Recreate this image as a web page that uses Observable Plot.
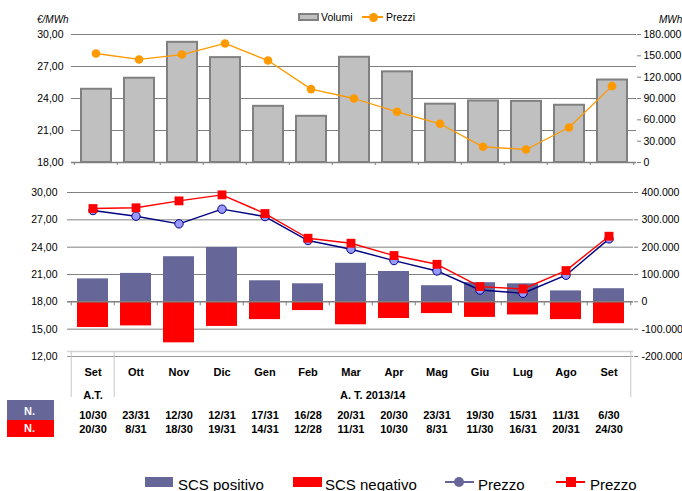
<!DOCTYPE html>
<html>
<head>
<meta charset="utf-8">
<script src="https://cdn.jsdelivr.net/npm/d3@7"></script>
<script src="https://cdn.jsdelivr.net/npm/@observablehq/plot@0.6"></script>
<style>
  body { margin: 0; background: #fff; font-family: "Liberation Sans", Arial, sans-serif; }
  #chart { position: relative; width: 682px; height: 491px; overflow: hidden; background: #fff; }
  #chart svg { position: absolute; left: 0; overflow: visible; }
  .t { position: absolute; white-space: nowrap; line-height: 1; color: #000; }
  .sw { position: absolute; box-sizing: border-box; }
</style>
</head>
<body>
<div id="chart"></div>
<script>
// Months of the thermal year (first "Set" belongs to the previous A.T.)
const monthKeys = ["Set12", "Ott", "Nov", "Dic", "Gen", "Feb", "Mar", "Apr", "Mag", "Giu", "Lug", "Ago", "Set13"];
const monthLabels = ["Set", "Ott", "Nov", "Dic", "Gen", "Feb", "Mar", "Apr", "Mag", "Giu", "Lug", "Ago", "Set"];

// Upper panel: traded volumes (MWh) and prices (€/MWh)
const volumi = [103000, 118500, 169000, 147500, 79000, 65000, 148000, 127500, 82000, 86500, 86000, 80500, 116000];
const prezzi = [28.22, 27.66, 28.12, 29.16, 27.56, 24.88, 24.00, 22.75, 21.63, 19.47, 19.22, 21.28, 25.16];

// Lower panel: imbalance volumes (MWh) and prices (€/MWh)
const scsPositivo = [84000, 104000, 165000, 199000, 77000, 66000, 141000, 111000, 59000, 70000, 66000, 40000, 48000];
const scsNegativo = [-94000, -88000, -150000, -90000, -65000, -32000, -84000, -61000, -43000, -57000, -48000, -65000, -80000];
const prezzoPositivo = [28.02, 27.40, 26.56, 28.17, 27.36, 24.73, 23.77, 22.53, 21.39, 19.30, 18.94, 20.92, 24.91];
const prezzoNegativo = [28.24, 28.32, 29.08, 29.74, 27.69, 24.98, 24.43, 23.08, 22.12, 19.67, 19.41, 21.43, 25.20];

// Days with positive / negative imbalance
const giorniPositivo = ["10/30", "23/31", "12/30", "12/31", "17/31", "16/28", "20/31", "20/30", "23/31", "19/30", "15/31", "11/31", "6/30"];
const giorniNegativo = ["20/30", "8/31", "18/30", "19/31", "14/31", "12/28", "11/31", "10/30", "8/31", "11/30", "16/31", "20/31", "24/30"];

// Axis ticks
const ticksPrezzoTop = [18, 21, 24, 27, 30];
const ticksVolumeTop = [0, 30000, 60000, 90000, 120000, 150000, 180000];
const ticksPrezzoBottom = [12, 15, 18, 21, 24, 27, 30];
const ticksVolumeBottom = [-200000, -100000, 0, 100000, 200000, 300000, 400000];

const it = d3.formatLocale({decimal: ",", thousands: ".", grouping: [3], currency: ["", " €"], minus: "-"});
const fmtPrezzo = it.format(".2f");
const fmtVolume = it.format(",d");

const chart = document.getElementById("chart");
const baseStyle = {
  fontFamily: '"Liberation Sans", Arial, sans-serif',
  fontSize: "10.5px",
  background: "transparent",
  color: "#000",
  overflow: "visible"
};
const GRID = "#808080";

function place(svg, top) {
  svg.style.position = "absolute";
  svg.style.top = top + "px";
  svg.style.left = "0px";
  chart.append(svg);
}

// ---------- Upper panel ----------
const topFrame = {width: 682, height: 175, marginLeft: 71, marginRight: 46, marginTop: 34, marginBottom: 13};
const topStep = (topFrame.width - topFrame.marginLeft - topFrame.marginRight) / monthKeys.length;
const xTop = () => ({type: "band", domain: monthKeys, padding: 0, axis: null});

// grid + left axis
place(Plot.plot({
  ...topFrame, style: baseStyle,
  x: xTop(), y: {domain: [18, 30], axis: null},
  marks: [
    Plot.gridY(ticksPrezzoTop.filter(t => t > 18), {stroke: GRID, strokeOpacity: 1, strokeWidth: 1}),
    Plot.axisY(ticksPrezzoTop, {anchor: "left", tickSize: 0, tickPadding: 8, tickFormat: fmtPrezzo})
  ]
}), 0);

// volume bars + right axis
place(Plot.plot({
  ...topFrame, style: baseStyle,
  x: xTop(), y: {domain: [0, 180000], axis: null},
  marks: [
    Plot.barY(monthKeys, {x: d => d, y: (d, i) => volumi[i], fill: "#c0c0c0", stroke: "#808080", strokeWidth: 2, insetLeft: 7, insetRight: 6}),
    Plot.ruleY([0], {stroke: GRID, strokeWidth: 1.5}),
    Plot.ruleX(monthKeys, {x: d => d, y1: 0, y2: 0, dx: -topStep / 2, insetBottom: -3, stroke: GRID}),
    Plot.ruleX(monthKeys.slice(-1), {x: d => d, y1: 0, y2: 0, dx: topStep / 2, insetBottom: -3, stroke: GRID}),
    Plot.axisY(ticksVolumeTop, {anchor: "right", tickSize: 4, tickPadding: 3, tickFormat: fmtVolume, stroke: GRID})
  ]
}), 0);

// price line
place(Plot.plot({
  ...topFrame, style: baseStyle,
  x: xTop(), y: {domain: [18, 30], axis: null},
  marks: [
    Plot.lineY(monthKeys, {x: d => d, y: (d, i) => prezzi[i], stroke: "#ff9900", strokeWidth: 1.3}),
    Plot.dot(monthKeys, {x: d => d, y: (d, i) => prezzi[i], r: 4.3, fill: "#ff9900", stroke: "none"})
  ]
}), 0);

// ---------- Lower panel ----------
const botFrame = {width: 682, height: 185, marginLeft: 67, marginRight: 49, marginTop: 17, marginBottom: 4};
const botStep = (botFrame.width - botFrame.marginLeft - botFrame.marginRight) / monthKeys.length;
const xBot = () => ({type: "band", domain: monthKeys, padding: 0, axis: null});

// grid + left axis
place(Plot.plot({
  ...botFrame, style: baseStyle,
  x: xBot(), y: {domain: [12, 30], axis: null},
  marks: [
    Plot.gridY([15, 21, 24, 27, 30], {stroke: GRID, strokeOpacity: 1, strokeWidth: 1}),
    Plot.axisY(ticksPrezzoBottom, {anchor: "left", tickSize: 0, tickPadding: 10, tickFormat: fmtPrezzo})
  ]
}), 175);

// imbalance bars + right axis
place(Plot.plot({
  ...botFrame, style: baseStyle,
  x: xBot(), y: {domain: [-200000, 400000], axis: null},
  marks: [
    Plot.barY(monthKeys, {x: d => d, y: (d, i) => scsPositivo[i], fill: "#666699", insetLeft: 6, insetRight: 6}),
    Plot.barY(monthKeys, {x: d => d, y: (d, i) => scsNegativo[i], fill: "#ff0000", insetLeft: 6, insetRight: 6}),
    Plot.ruleY([0], {stroke: GRID, strokeWidth: 1.5}),
    Plot.ruleY([-200000], {stroke: "#999999", strokeWidth: 1.2}),
    Plot.ruleX(monthKeys, {x: d => d, y1: 0, y2: 0, dx: -botStep / 2, insetBottom: -4, stroke: GRID}),
    Plot.ruleX(monthKeys.slice(-1), {x: d => d, y1: 0, y2: 0, dx: botStep / 2, insetBottom: -4, stroke: GRID}),
    Plot.axisY(ticksVolumeBottom, {anchor: "right", tickSize: 4, tickPadding: 4, tickFormat: fmtVolume, stroke: GRID})
  ]
}), 175);

// imbalance price lines
place(Plot.plot({
  ...botFrame, style: baseStyle,
  x: xBot(), y: {domain: [12, 30], axis: null},
  marks: [
    Plot.lineY(monthKeys, {x: d => d, y: (d, i) => prezzoPositivo[i], stroke: "#000080", strokeWidth: 1.4}),
    Plot.dot(monthKeys, {x: d => d, y: (d, i) => prezzoPositivo[i], r: 4.2, fill: "#9999ff", stroke: "#000080", strokeWidth: 1}),
    Plot.lineY(monthKeys, {x: d => d, y: (d, i) => prezzoNegativo[i], stroke: "#ff0000", strokeWidth: 1.4}),
    Plot.dot(monthKeys, {x: d => d, y: (d, i) => prezzoNegativo[i], symbol: "square", r: 5, fill: "#ff0000", stroke: "none"})
  ]
}), 175);

// ---------- Data table under the lower panel ----------
const tblFrame = {width: 682, height: 100, marginLeft: 67, marginRight: 49, marginTop: 0, marginBottom: 54};
place(Plot.plot({
  ...tblFrame, style: {...baseStyle, fontSize: "11px"},
  x: xBot(), y: {domain: [0, 1], axis: null},
  marks: [
    Plot.ruleY([1], {stroke: "#d4d4d4", strokeWidth: 1.5}),
    Plot.ruleX(["Set12", "Ott"], {x: d => d, dx: -botStep / 2, stroke: "#c8c8c8"}),
    Plot.ruleX(["Set13"], {x: d => d, dx: botStep / 2, stroke: "#c8c8c8"}),
    Plot.text(monthKeys, {x: d => d, text: (d, i) => monthLabels[i], frameAnchor: "top", dy: 17, fontWeight: "bold"}),
    Plot.text(["Set12"], {x: d => d, text: () => "A.T.", frameAnchor: "top", dy: 40, fontWeight: "bold"}),
    Plot.text(["Mar"], {x: d => d, text: () => "A. T. 2013/14", frameAnchor: "top", dy: 40, dx: botStep / 2, fontWeight: "bold"}),
    Plot.text(monthKeys, {x: d => d, text: (d, i) => giorniPositivo[i], frameAnchor: "top", dy: 60, fontWeight: "bold"}),
    Plot.text(monthKeys, {x: d => d, text: (d, i) => giorniNegativo[i], frameAnchor: "top", dy: 73.5, fontWeight: "bold"})
  ]
}), 351);

// ---------- Legends, units and row keys ----------
function addText(txt, left, top, size, extra = "") {
  const d = document.createElement("div");
  d.className = "t";
  d.textContent = txt;
  d.style.cssText += `left:${left}px;top:${top}px;font-size:${size}px;${extra}`;
  chart.append(d);
  return d;
}
function addBox(left, top, w, h, css) {
  const d = document.createElement("div");
  d.className = "sw";
  d.style.cssText += `left:${left}px;top:${top}px;width:${w}px;height:${h}px;${css}`;
  chart.append(d);
  return d;
}

// units
addText("€/MWh", 37, 15, 10, "font-style:italic;");
addText("MWh", 659, 15, 10, "font-style:italic;");

// upper legend
addBox(298, 13, 21, 8, "background:#c0c0c0;border:2px solid #808080;");
addText("Volumi", 321, 12, 10.5);
addBox(362, 16.4, 21, 1.3, "background:#ff9900;");
addBox(368.5, 12.5, 9, 9, "background:#ff9900;border-radius:50%;");
addText("Prezzi", 386, 12, 10.5);

// table row keys
addBox(7, 400, 47, 20, "background:#666699;");
addBox(7, 420, 47, 17, "background:#ff0000;");
addText("N.", 24, 405.5, 11, "color:#fff;font-weight:bold;");
addText("N.", 24, 423, 11, "color:#fff;font-weight:bold;");

// lower legend
addBox(145, 477, 28, 10, "background:#666699;");
addText("SCS positivo", 178, 476.5, 15);
addBox(293, 477, 29, 10, "background:#ff0000;");
addText("SCS negativo", 325, 476.5, 15);
addBox(445, 481.3, 29, 1.5, "background:#666699;");
addBox(453.5, 477, 10, 10, "background:#666699;border-radius:50%;");
addText("Prezzo", 478, 476.5, 15);
addBox(556, 481.3, 29, 1.5, "background:#ff0000;");
addBox(565.5, 477, 10, 10, "background:#ff0000;");
addText("Prezzo", 590, 476.5, 15);
</script>
</body>
</html>
